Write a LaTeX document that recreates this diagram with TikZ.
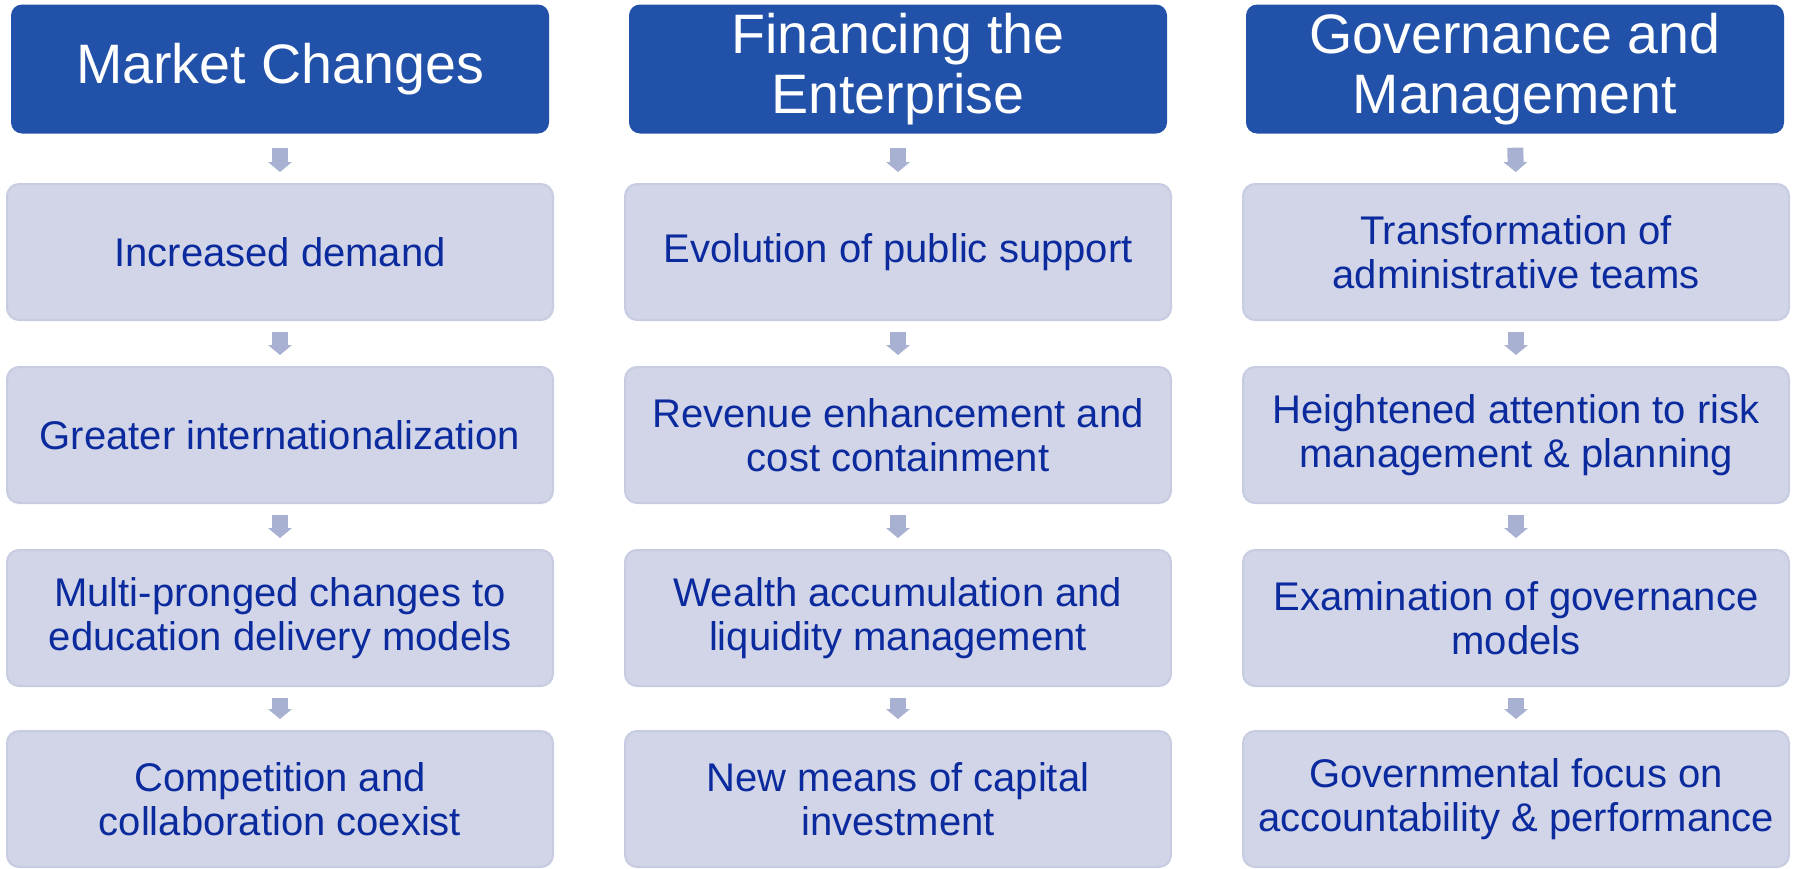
\documentclass[tikz,border=0pt]{standalone}
\usepackage{fontspec}
\setmainfont{Liberation Sans}
\usetikzlibrary{arrows.meta}

\definecolor{headblue}{HTML}{2151A9}
\definecolor{boxfill}{HTML}{D1D5E7}
\definecolor{boxline}{HTML}{C7CCE2}
\definecolor{boxtext}{HTML}{0A2A9E}
\definecolor{arrowfill}{HTML}{A9B1D3}

\tikzset{
  header/.style={fill=headblue, draw=none, rounded corners=11pt,
    minimum width=538pt, minimum height=129pt, inner sep=0pt,
    text=white, align=center, font=\fontsize{55.6}{60}\selectfont},
  item/.style={fill=boxfill, draw=boxline, line width=2pt, rounded corners=12pt,
    minimum width=546pt, minimum height=136pt, inner sep=0pt,
    text=boxtext, align=center, font=\fontsize{40}{43.5}\selectfont},
  flow/.style={draw=arrowfill, line width=16pt,
    -{Triangle[width=24pt, length=10pt, line width=0pt]}},
  fromhead/.style={flow, shorten <=14pt, shorten >=11pt},
  frombox/.style={flow, shorten <=11pt, shorten >=11pt}
}

\begin{document}
\begin{tikzpicture}[x=1pt, y=-1pt]
\useasboundingbox (0,0) rectangle (1793,868);

% Column 1
\node[header] (h1) at (280,69) {Market Changes};
\node[item] (a1) at (280,252) {Increased demand};
\node[item] (a2) at (280,435) {Greater internationalization};
\node[item] (a3) at (280,618) {Multi-pronged changes to\\education delivery models};
\node[item] (a4) at (280,799) {Competition and\\collaboration coexist};

% Column 2
\node[header] (h2) at (898,69) {Financing the\\Enterprise};
\node[item] (b1) at (898,252) {Evolution of public support};
\node[item] (b2) at (898,435) {Revenue enhancement and\\cost containment};
\node[item] (b3) at (898,618) {Wealth accumulation and\\liquidity management};
\node[item] (b4) at (898,799) {New means of capital\\investment};

% Column 3
\node[header] (h3) at (1515,69) {Governance and\\Management};
\node[item] (c1) at (1516,252) {Transformation of\\administrative teams};
\node[item] (c2) at (1516,435) {Heightened attention to risk\\management \& planning};
\node[item] (c3) at (1516,618) {Examination of governance\\models};
\node[item] (c4) at (1516,799) {Governmental focus on\\accountability \& performance};

% Down arrows
\foreach \c in {1,2,3}{
  \ifcase\c\or
    \def\col{a}\or\def\col{b}\or\def\col{c}\fi
  \draw[fromhead] (h\c.south) -- (\col1.north);
  \draw[frombox] (\col1.south) -- (\col2.north);
  \draw[frombox] (\col2.south) -- (\col3.north);
  \draw[frombox] (\col3.south) -- (\col4.north);
}
\end{tikzpicture}
\end{document}
